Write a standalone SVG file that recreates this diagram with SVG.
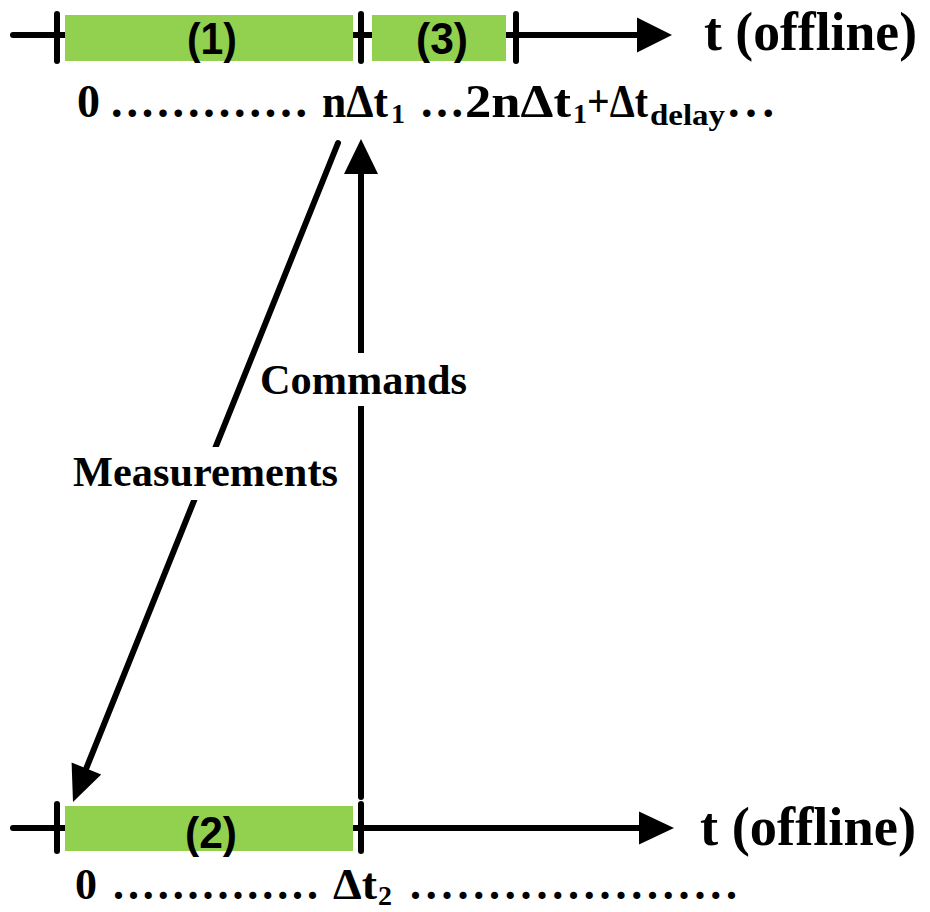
<svg xmlns="http://www.w3.org/2000/svg" width="930" height="912" viewBox="0 0 930 912">
<style>
.ax{stroke:#000;stroke-width:6;fill:none;stroke-linecap:round}
.tk{stroke:#000;stroke-width:6;stroke-linecap:round}
.box{fill:#92D050}
.bl{font-family:"Liberation Sans",Arial,sans-serif;font-weight:bold;font-size:44px;fill:#000;text-anchor:middle}
.tm{font-family:"Liberation Serif","Times New Roman",serif;font-weight:bold;fill:#000}
.ah{fill:#000}
</style>
<rect width="930" height="912" fill="#fff"/>

<g id="top-axis">
  <line class="ax" x1="13" y1="35" x2="640" y2="35"/>
  <polygon class="ah" points="637,17.5 672,35 637,52.5"/>
  <rect class="box" x="65" y="15" width="288" height="46"/>
  <rect class="box" x="372" y="15" width="134" height="46"/>
  <line class="tk" x1="57" y1="14" x2="57" y2="61"/>
  <line class="tk" x1="361" y1="14" x2="361" y2="61"/>
  <line class="tk" x1="516" y1="14" x2="516" y2="61"/>
  <text class="bl" x="212" y="54" textLength="50" lengthAdjust="spacingAndGlyphs">(1)</text>
  <text class="bl" x="442" y="54" textLength="52" lengthAdjust="spacingAndGlyphs">(3)</text>
  <text class="tm" x="704" y="50" font-size="55" textLength="213" lengthAdjust="spacingAndGlyphs">t (offline)</text>
</g>

<g id="top-scale">
  <text class="tm" font-size="46" y="117">
    <tspan x="77">0</tspan>
    <tspan x="111" textLength="196" lengthAdjust="spacing">.............</tspan>
    <tspan x="322" textLength="66" lengthAdjust="spacingAndGlyphs">nΔt</tspan>
    <tspan x="391" y="123" font-size="28">1</tspan>
    <tspan x="421" y="117" textLength="42" lengthAdjust="spacing">...</tspan>
    <tspan x="465" textLength="106" lengthAdjust="spacingAndGlyphs">2nΔt</tspan>
    <tspan x="573" y="123" font-size="28">1</tspan>
    <tspan x="587" y="117" textLength="61" lengthAdjust="spacingAndGlyphs">+Δt</tspan>
    <tspan x="650" y="125" font-size="30" textLength="75" lengthAdjust="spacingAndGlyphs">delay</tspan>
    <tspan x="728" y="117" textLength="46" lengthAdjust="spacing">...</tspan>
  </text>
</g>

<g id="bottom-axis">
  <line class="ax" x1="13" y1="828" x2="642" y2="828"/>
  <polygon class="ah" points="639,811.5 674,828 639,844.5"/>
  <rect class="box" x="65" y="806" width="288" height="45"/>
  <line class="tk" x1="57" y1="804" x2="57" y2="851"/>
  <line class="tk" x1="361" y1="804" x2="361" y2="851"/>
  <text class="bl" x="211" y="848" textLength="52" lengthAdjust="spacingAndGlyphs">(2)</text>
  <text class="tm" x="700" y="845" font-size="55" textLength="216" lengthAdjust="spacingAndGlyphs">t (offline)</text>
</g>

<g id="bottom-scale">
  <text class="tm" font-size="44" y="899">
    <tspan x="75">0</tspan>
    <tspan x="113" textLength="205" lengthAdjust="spacing">..............</tspan>
    <tspan x="333" textLength="44" lengthAdjust="spacingAndGlyphs">Δt</tspan>
    <tspan x="378" y="905" font-size="28">2</tspan>
    <tspan x="410" y="899" textLength="327" lengthAdjust="spacing">.....................</tspan>
  </text>
</g>

<g id="connectors">
  <line class="ax" x1="361" y1="170" x2="361" y2="797" stroke-linecap="butt"/>
  <polygon class="ah" points="361,139 378,174 344,174"/>
  <line class="ax" x1="338" y1="143" x2="86" y2="769"/>
  <polygon class="ah" points="73,802 71.6,762.6 101.2,774.6"/>
</g>

<g id="label-commands">
  <rect x="258" y="353" width="212" height="53" fill="#fff"/>
  <text class="tm" x="260" y="394" font-size="42" textLength="207" lengthAdjust="spacingAndGlyphs">Commands</text>
</g>
<g id="label-measurements">
  <rect x="71" y="447" width="270" height="53" fill="#fff"/>
  <text class="tm" x="73" y="486" font-size="42" textLength="265" lengthAdjust="spacingAndGlyphs">Measurements</text>
</g>
</svg>
